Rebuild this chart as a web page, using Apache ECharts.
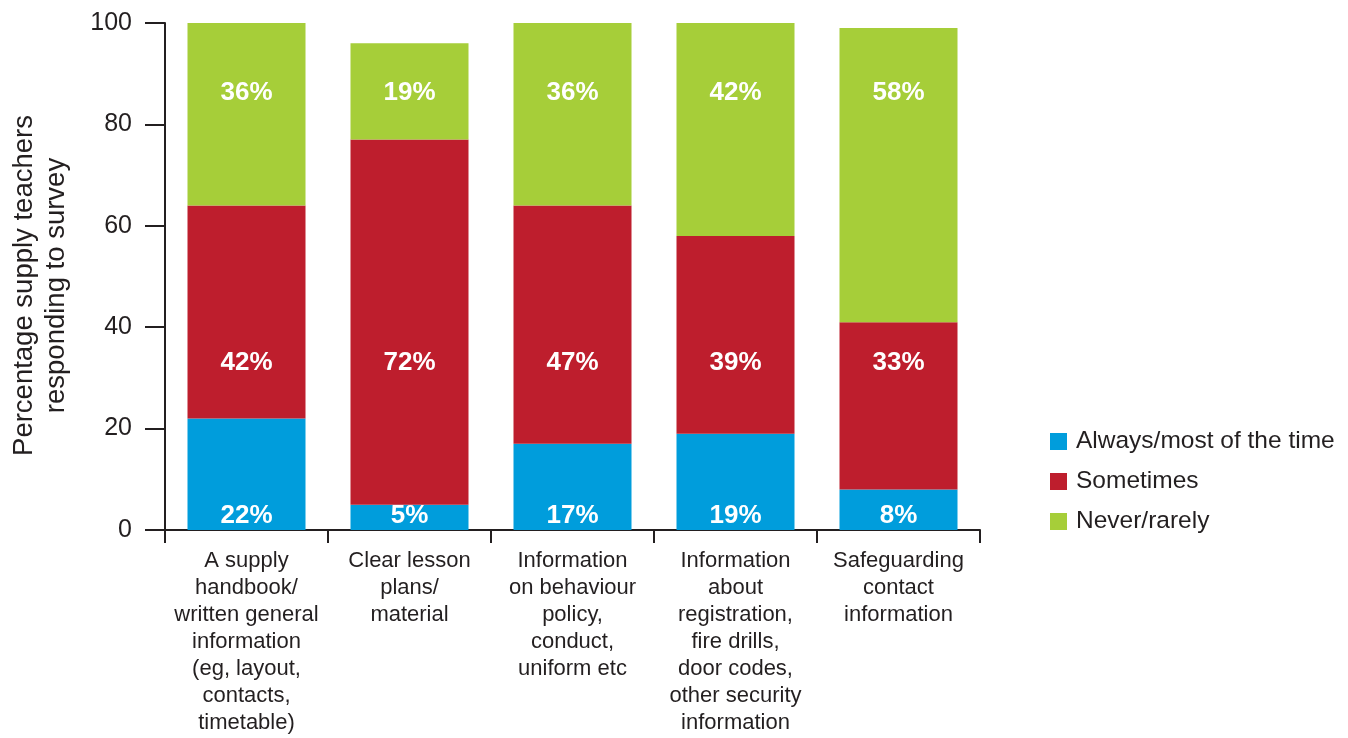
<!DOCTYPE html>
<html>
<head>
<meta charset="utf-8">
<script src="https://cdn.jsdelivr.net/npm/echarts@6/dist/echarts.min.js"></script>
<style>
  html, body { margin: 0; padding: 0; background: #ffffff; }
  #chart { width: 1348px; height: 738px; }
</style>
</head>
<body>
<div id="chart"></div>
<script>
// Survey categories (x axis)
const categories = [
  'A supply\nhandbook/\nwritten general\ninformation\n(eg, layout,\ncontacts,\ntimetable)',
  'Clear lesson\nplans/\nmaterial',
  'Information\non behaviour\npolicy,\nconduct,\nuniform etc',
  'Information\nabout\nregistration,\nfire drills,\ndoor codes,\nother security\ninformation',
  'Safeguarding\ncontact\ninformation'
];

// Percentages per response
const alwaysVals    = [22, 5, 17, 19, 8];
const sometimesVals = [42, 72, 47, 39, 33];
const neverVals     = [36, 19, 36, 42, 58];

const seriesNames = ['Always/most of the time', 'Sometimes', 'Never/rarely'];

// Y axis range
const yMin = 0;
const yMax = 100;
const yStep = 20;

// Layout
const GRID = { left: 165, right: 368, top: 23, bottom: 208 };
const CHART_H = 738;
const PX_PER_UNIT = (CHART_H - GRID.top - GRID.bottom) / (yMax - yMin);

// Value-space rows where the percentage labels line up across bars
const SOMETIMES_ROW = 33.0;
const NEVER_ROW = 86.2;

const COLORS = ['#009ddc', '#be1e2d', '#a6ce39'];
const TEXT = '#231f20';
const FONT = 'Liberation Sans';

const valueLabel = {
  show: true,
  color: '#ffffff',
  fontFamily: FONT,
  fontWeight: 'bold',
  fontSize: 26,
  formatter: p => p.value + '%'
};

const alwaysData = alwaysVals.map(v => ({ value: v }));
const sometimesData = sometimesVals.map((v, i) => {
  const center = alwaysVals[i] + v / 2;
  return { value: v, label: { offset: [0, (center - SOMETIMES_ROW) * PX_PER_UNIT] } };
});
const neverData = neverVals.map((v, i) => {
  const center = alwaysVals[i] + sometimesVals[i] + v / 2;
  return { value: v, label: { offset: [0, (center - NEVER_ROW) * PX_PER_UNIT] } };
});

const chart = echarts.init(document.getElementById('chart'));

chart.setOption({
  backgroundColor: '#ffffff',
  animation: false,
  grid: GRID,
  legend: {
    orient: 'vertical',
    left: 1045,
    top: 424,
    itemWidth: 17,
    itemHeight: 17,
    itemGap: 15,
    icon: 'rect',
    data: seriesNames,
    textStyle: {
      fontFamily: FONT,
      fontSize: 24.5,
      lineHeight: 24,
      color: TEXT,
      padding: [0, 0, 0, 4]
    }
  },
  xAxis: {
    type: 'category',
    data: categories,
    boundaryGap: true,
    axisLine: { show: true, lineStyle: { color: TEXT, width: 2 } },
    axisTick: { show: true, length: 13, alignWithLabel: false, lineStyle: { color: TEXT, width: 2 } },
    axisLabel: {
      interval: 0,
      margin: 17,
      fontFamily: FONT,
      fontSize: 22,
      lineHeight: 27,
      color: TEXT,
      align: 'center'
    },
    splitLine: { show: false }
  },
  yAxis: {
    type: 'value',
    min: yMin,
    max: yMax,
    interval: yStep,
    name: 'Percentage supply teachers\nresponding to survey',
    nameLocation: 'middle',
    nameRotate: 90,
    nameGap: 93,
    nameTextStyle: {
      fontFamily: FONT,
      fontSize: 27.5,
      lineHeight: 32,
      color: TEXT,
      align: 'center',
      padding: [0, 18, 0, 0]
    },
    axisLine: { show: true, lineStyle: { color: TEXT, width: 2 } },
    axisTick: { show: true, length: 20, lineStyle: { color: TEXT, width: 2 } },
    axisLabel: {
      margin: 33,
      fontFamily: FONT,
      fontSize: 25,
      color: TEXT
    },
    splitLine: { show: false }
  },
  series: [
    {
      name: seriesNames[0],
      type: 'bar',
      stack: 'total',
      barWidth: 118,
      itemStyle: { color: COLORS[0] },
      label: Object.assign({}, valueLabel, { position: 'insideBottom', distance: 1 }),
      data: alwaysData
    },
    {
      name: seriesNames[1],
      type: 'bar',
      stack: 'total',
      barWidth: 118,
      itemStyle: { color: COLORS[1] },
      label: Object.assign({}, valueLabel, { position: 'inside' }),
      data: sometimesData
    },
    {
      name: seriesNames[2],
      type: 'bar',
      stack: 'total',
      barWidth: 118,
      itemStyle: { color: COLORS[2] },
      label: Object.assign({}, valueLabel, { position: 'inside' }),
      data: neverData
    }
  ]
});
</script>
</body>
</html>
